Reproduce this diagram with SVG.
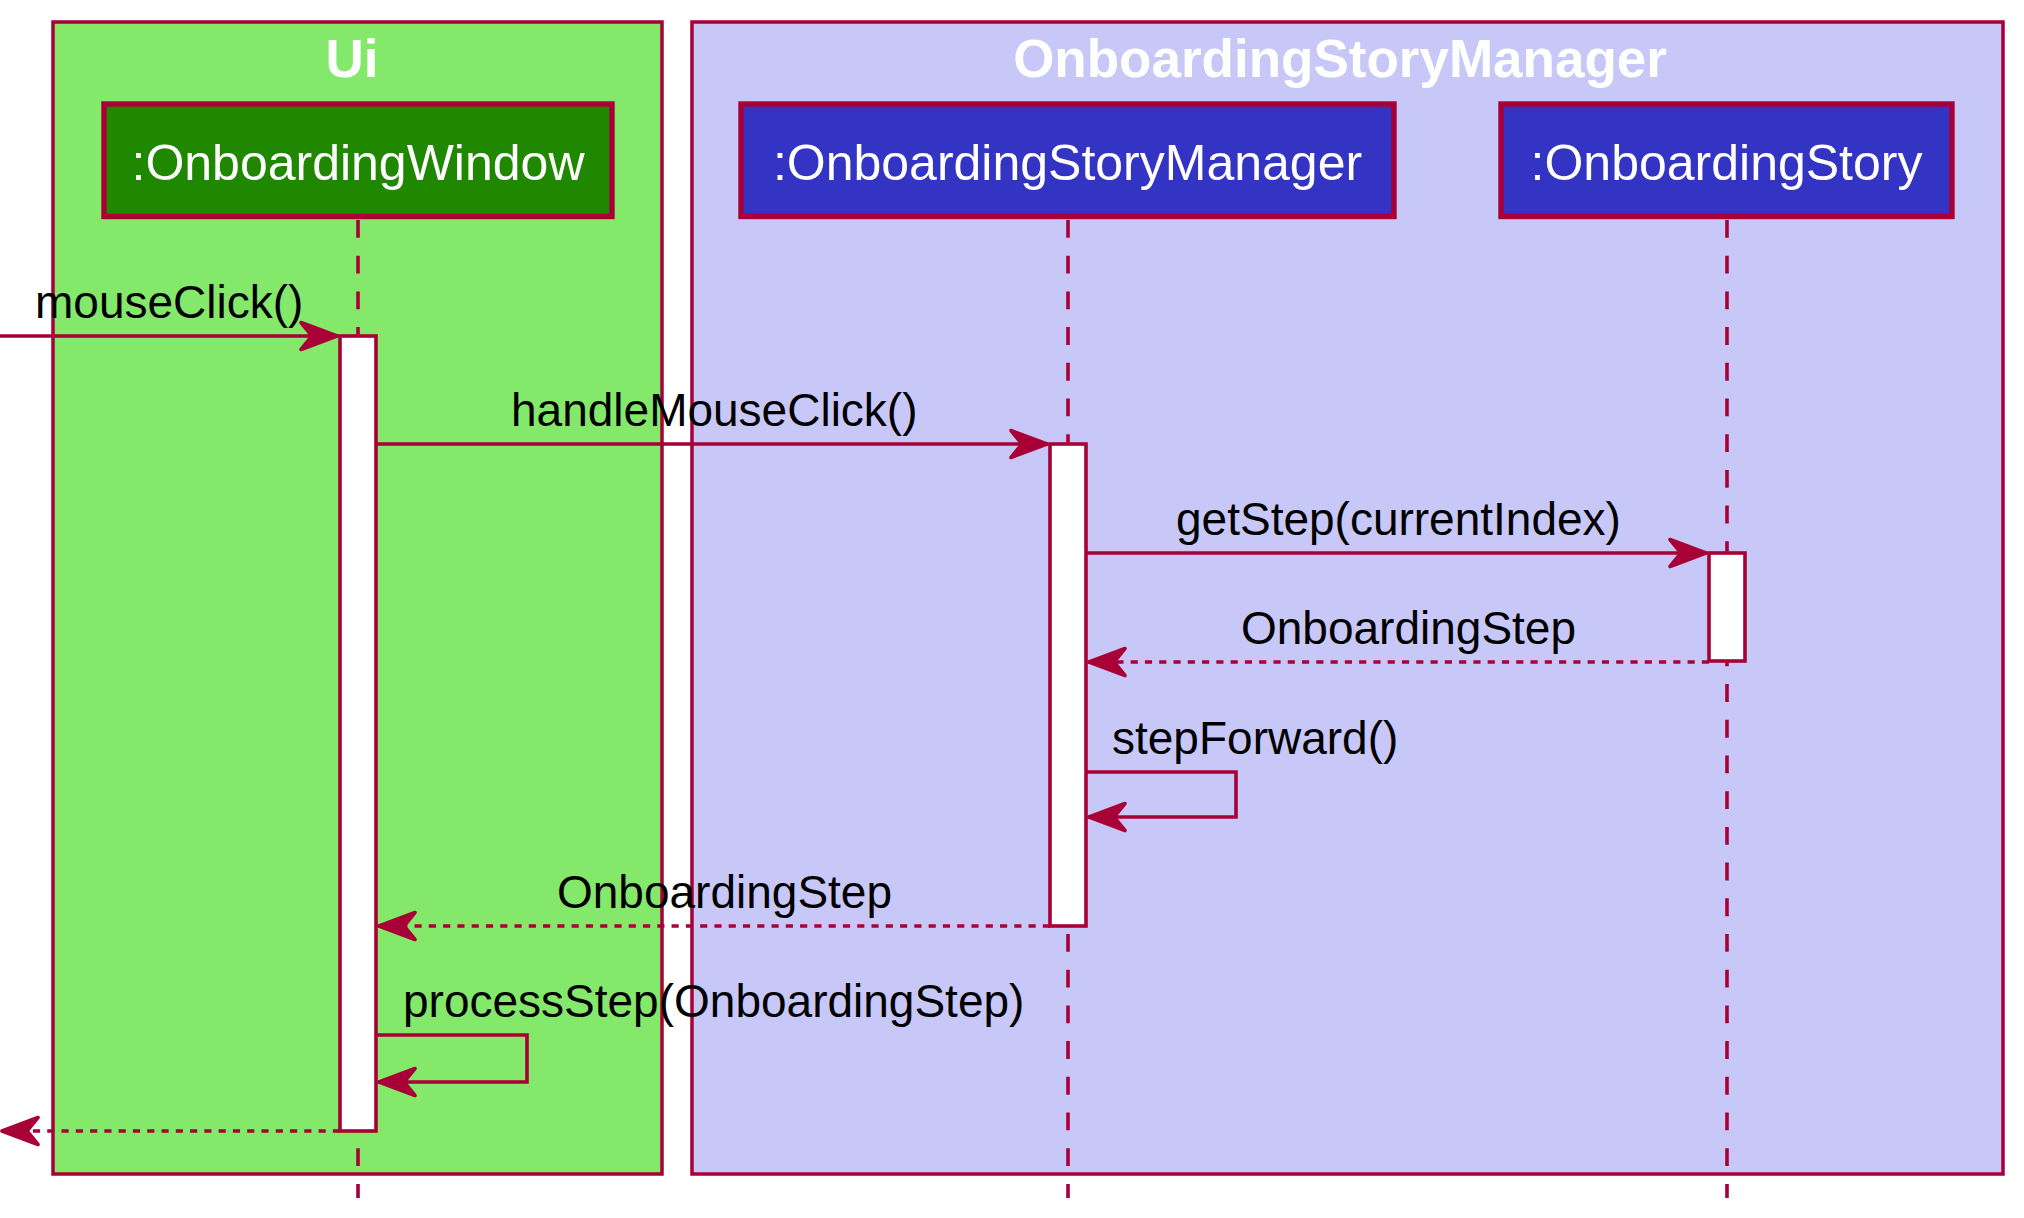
<svg xmlns="http://www.w3.org/2000/svg" width="2024" height="1218" viewBox="0 0 2024 1218">
<style>
.frame{stroke:#A80036;stroke-width:3.5}
.title{font-family:"Liberation Sans",Arial,sans-serif;font-weight:bold;font-size:53px;fill:#FFFFFF;text-anchor:middle}
.pbox{stroke:#A80036;stroke-width:5.4}
.ptext{font-family:"Liberation Sans",Arial,sans-serif;font-size:50px;fill:#FFFFFF;text-anchor:middle}
.life{stroke:#A80036;stroke-width:3.6;stroke-dasharray:17.85 17.85;fill:none}
.act{fill:#FFFFFF;stroke:#A80036;stroke-width:3.6}
.msg{stroke:#A80036;stroke-width:3.6;fill:none}
.ret{stroke:#A80036;stroke-width:3.6;fill:none;stroke-dasharray:7.14 7.14}
.lbl{font-family:"Liberation Sans",Arial,sans-serif;font-size:46px;fill:#000000}
</style>
<defs>
<marker id="arrow" viewBox="-44 -20 48 40" refX="0" refY="0" markerWidth="48" markerHeight="40" markerUnits="userSpaceOnUse" orient="auto">
<path d="M-1,0 L-37,-13.5 L-26,0 L-37,13.5 Z" fill="#A80036" stroke="#A80036" stroke-width="3.6" stroke-linejoin="round"/>
</marker>
</defs>
<rect width="2024" height="1218" fill="#FFFFFF"/>
<g id="frame-ui">
<rect class="frame" x="53" y="22" width="609" height="1152" fill="#84E86B"/>
<text class="title" x="352" y="77">Ui</text>
</g>
<g id="frame-osm">
<rect class="frame" x="692" y="22" width="1311" height="1152" fill="#C8C8F8"/>
<text class="title" x="1340" y="77">OnboardingStoryManager</text>
</g>
<g id="lifelines">
<line class="life" x1="358" y1="220" x2="358" y2="1198"/>
<line class="life" x1="1068" y1="220" x2="1068" y2="1198"/>
<line class="life" x1="1727" y1="220" x2="1727" y2="1198"/>
</g>
<g id="p-onboardingwindow">
<rect class="pbox" x="104" y="104" width="508" height="112.5" fill="#1F8800"/>
<text class="ptext" x="358" y="180">:OnboardingWindow</text>
</g>
<g id="p-onboardingstorymanager">
<rect class="pbox" x="741" y="104" width="653" height="112.5" fill="#3333C4"/>
<text class="ptext" x="1067.5" y="180">:OnboardingStoryManager</text>
</g>
<g id="p-onboardingstory">
<rect class="pbox" x="1501" y="104" width="451" height="112.5" fill="#3333C4"/>
<text class="ptext" x="1726.5" y="180">:OnboardingStory</text>
</g>
<g id="activations">
<rect class="act" x="340" y="336" width="36" height="795"/>
<rect class="act" x="1050" y="444" width="36" height="482"/>
<rect class="act" x="1709" y="553" width="36" height="108"/>
</g>
<g id="connectors">
<line class="msg" x1="0" y1="336" x2="338" y2="336" marker-end="url(#arrow)"/>
<line class="msg" x1="376" y1="444" x2="1048" y2="444" marker-end="url(#arrow)"/>
<line class="msg" x1="1086" y1="553" x2="1707" y2="553" marker-end="url(#arrow)"/>
<line class="ret" x1="1709" y1="662" x2="1088" y2="662" marker-end="url(#arrow)"/>
<path class="msg" d="M1086,772 H1236 V817 H1088" marker-end="url(#arrow)"/>
<line class="ret" x1="1050" y1="926" x2="378" y2="926" marker-end="url(#arrow)"/>
<path class="msg" d="M376,1035 H527 V1082 H378" marker-end="url(#arrow)"/>
<line class="ret" x1="340" y1="1131" x2="1" y2="1131" marker-end="url(#arrow)"/>
</g>
<g id="labels">
<text class="lbl" x="35" y="318">mouseClick()</text>
<text class="lbl" x="511" y="426">handleMouseClick()</text>
<text class="lbl" x="1176" y="535">getStep(currentIndex)</text>
<text class="lbl" x="1241" y="644">OnboardingStep</text>
<text class="lbl" x="1112" y="754">stepForward()</text>
<text class="lbl" x="557" y="908">OnboardingStep</text>
<text class="lbl" x="403" y="1017">processStep(OnboardingStep)</text>
</g>
</svg>
